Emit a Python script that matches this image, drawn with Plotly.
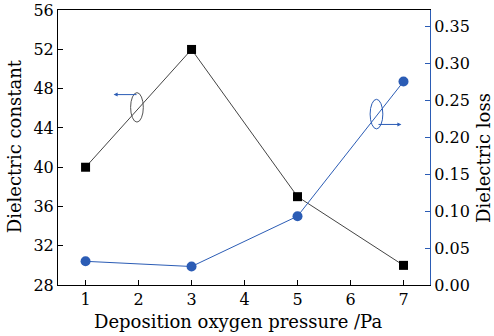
import plotly.graph_objects as go

pressure = [1, 3, 5, 7]
dielectric_constant = [40, 52, 37, 30]
dielectric_loss = [0.032, 0.025, 0.093, 0.275]
x_ticks = [1, 2, 3, 4, 5, 6, 7]
left_ticks = [28, 32, 36, 40, 44, 48, 52, 56]
right_ticks = [0.00, 0.05, 0.10, 0.15, 0.20, 0.25, 0.30, 0.35]

BLUE = "#2b5cb5"
FAM = "DejaVu Serif"
TICKFONT = dict(family=FAM, size=16, color="black")
TITLEFONT = dict(family=FAM, size=18, color="black")

fig = go.Figure()
fig.add_trace(go.Scatter(x=pressure, y=dielectric_constant, mode="lines+markers",
                         line=dict(color="#444444", width=1),
                         marker=dict(symbol="square", size=9, color="black"),
                         showlegend=False))
fig.add_trace(go.Scatter(x=pressure, y=dielectric_loss, mode="lines+markers", yaxis="y2",
                         line=dict(color=BLUE, width=1),
                         marker=dict(symbol="circle", size=10, color=BLUE),
                         showlegend=False))

# annotation ellipses and arrows
fig.add_shape(type="circle", xref="x", yref="y", x0=1.85, x1=2.09, y0=44.6, y1=47.6,
              line=dict(color="#555555", width=1))
fig.add_annotation(x=1.53, y=47.4, ax=1.99, ay=47.4, xref="x", yref="y", axref="x", ayref="y",
                   showarrow=True, arrowhead=2, arrowsize=0.8, arrowwidth=1, arrowcolor=BLUE, text="")
fig.add_shape(type="circle", xref="x", yref="y2", x0=6.37, x1=6.61, y0=0.211, y1=0.251,
              line=dict(color=BLUE, width=1))
fig.add_annotation(x=6.96, y=0.217, ax=6.50, ay=0.217, xref="x", yref="y2", axref="x", ayref="y2",
                   showarrow=True, arrowhead=2, arrowsize=0.8, arrowwidth=1, arrowcolor=BLUE, text="")

# axis titles as annotations (paper coords)
fig.add_annotation(text="Deposition oxygen pressure /Pa", xref="paper", yref="paper",
                   x=0.484, y=-0.131, xanchor="center", yanchor="middle", showarrow=False,
                   font=TITLEFONT)
fig.add_annotation(text="Dielectric constant", xref="paper", yref="paper",
                   x=-0.118, y=0.505, xanchor="center", yanchor="middle", textangle=-90,
                   showarrow=False, font=TITLEFONT)
fig.add_annotation(text="Dielectric loss", xref="paper", yref="paper",
                   x=1.145, y=0.462, xanchor="center", yanchor="middle", textangle=-90,
                   showarrow=False, font=TITLEFONT)

axis_common = dict(showgrid=False, zeroline=False, showline=True, linewidth=1,
                   ticks="inside", ticklen=5, automargin=False, tickfont=TICKFONT,
                   ticklabeloverflow="allow")

fig.update_layout(
    width=494, height=336,
    margin=dict(l=58, r=64, t=10, b=51, autoexpand=False),
    paper_bgcolor="white", plot_bgcolor="white",
    font=TICKFONT,
    xaxis=dict(range=[0.48, 7.5], tickvals=x_ticks, ticktext=[str(v) for v in x_ticks],
               linecolor="black", mirror=True, tickcolor="black", **axis_common),
    yaxis=dict(range=[28, 56.02], tickvals=left_ticks, ticktext=[str(v) for v in left_ticks],
               linecolor="black", tickcolor="black", **axis_common),
    yaxis2=dict(range=[0, 0.3717], overlaying="y", side="right",
                tickvals=right_ticks, ticktext=["%.2f" % v for v in right_ticks],
                linecolor=BLUE, tickcolor=BLUE, **axis_common),
)

fig.write_html("out.html", config={"displayModeBar": False},
               post_script="document.body.style.margin='0';")
